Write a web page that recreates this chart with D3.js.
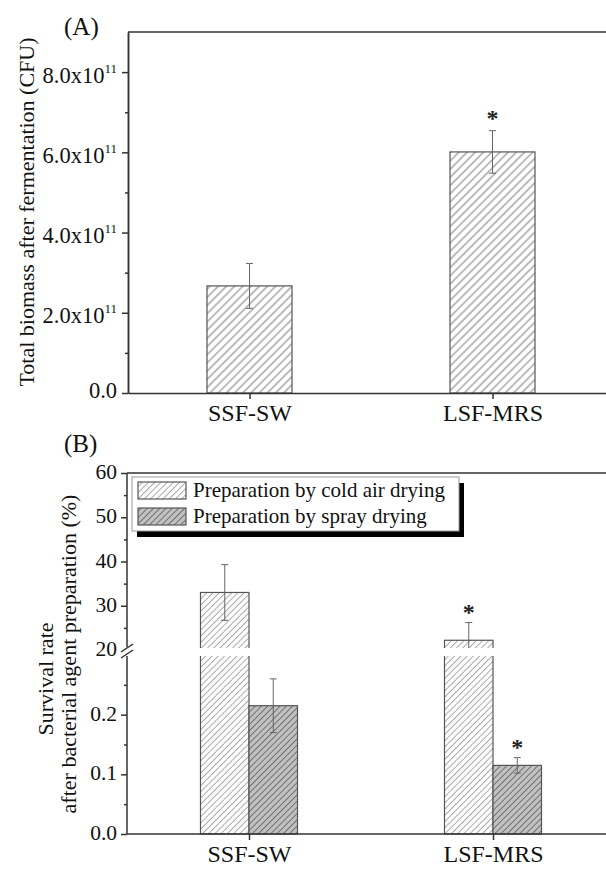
<!DOCTYPE html>
<html>
<head>
<meta charset="utf-8">
<script src="https://cdn.jsdelivr.net/npm/d3@7"></script>
<style>
body { margin: 0; background: #fff; }
svg { display: block; font-family: "Liberation Serif", "Times New Roman", serif; }
</style>
</head>
<body>
<svg width="606" height="869"></svg>
<script>
const categories = ["SSF-SW", "LSF-MRS"];

// panel A
const biomass = [2.67e11, 6.01e11];
const biomassErr = [0.56e11, 0.53e11];
const biomassStar = [false, true];
const biomassTicks = [0, 2e11, 4e11, 6e11, 8e11];
const biomassMinor = [1e11, 3e11, 5e11, 7e11];

// panel B
const seriesNames = ["Preparation by cold air drying", "Preparation by spray drying"];
const coldAir = [33.0, 22.2];
const coldAirErr = [6.3, 4.0];
const coldAirStar = [false, true];
const spray = [0.215, 0.115];
const sprayErr = [0.045, 0.013];
const sprayStar = [false, true];
const upperTicks = [20, 30, 40, 50, 60];
const upperMinor = [25, 35, 45, 55];
const lowerTicks = [0, 0.1, 0.2];
const lowerMinor = [0.05, 0.15, 0.25];

const svg = d3.select("svg");
const defs = svg.append("defs");
const axisColor = "#333";
const textColor = "#111";

function hatch(id, bg, line, size) {
  const p = defs.append("pattern")
    .attr("id", id)
    .attr("patternUnits", "userSpaceOnUse")
    .attr("width", size).attr("height", size)
    .attr("patternTransform", "rotate(45)");
  p.append("rect").attr("width", size).attr("height", size).attr("fill", bg);
  p.append("line")
    .attr("x1", size / 2).attr("y1", 0).attr("x2", size / 2).attr("y2", size)
    .attr("stroke", line).attr("stroke-width", 1);
}
hatch("hA", "#fff", "#7a7a7a", 5.8);
hatch("hCold", "#fff", "#a8a8a8", 4.4);
hatch("hSpray", "#c2c2c2", "#6e6e6e", 4.4);

function styleAxis(g) {
  g.selectAll("path, line").attr("stroke", axisColor).attr("stroke-width", 1.5);
  g.selectAll("text").remove();
}

function errorBar(g, x, yTop, yBot, showBottomCap) {
  g.append("line").attr("x1", x).attr("x2", x).attr("y1", yTop).attr("y2", yBot)
    .attr("stroke", "#666").attr("stroke-width", 1);
  g.append("line").attr("x1", x - 3.5).attr("x2", x + 3.5).attr("y1", yTop).attr("y2", yTop)
    .attr("stroke", "#666").attr("stroke-width", 1);
  if (showBottomCap) {
    g.append("line").attr("x1", x - 3.5).attr("x2", x + 3.5).attr("y1", yBot).attr("y2", yBot)
      .attr("stroke", "#666").attr("stroke-width", 1);
  }
}

function star(x, y) {
  svg.append("text").attr("x", x).attr("y", y + 12)
    .attr("text-anchor", "middle").attr("font-size", 24).attr("font-weight", "bold")
    .attr("fill", "#222").text("*");
}

function styleXAxis(g) {
  g.selectAll("path, line").attr("stroke", axisColor).attr("stroke-width", 1.5);
  g.selectAll("text").attr("font-size", 24).attr("font-family", "Liberation Serif")
    .attr("fill", textColor).attr("y", 28).attr("dy", 0);
}

// ---------- Panel A ----------
const ax = d3.scalePoint().domain(categories).range([128, 614]).padding(0.5);
const ay = d3.scaleLinear().domain([0, 9e11]).range([393, 32]);

svg.append("text").attr("x", 64).attr("y", 35).attr("font-size", 25).attr("fill", textColor).text("(A)");

const gA = svg.append("g");

gA.selectAll(".barA")
  .data(biomass)
  .enter().append("rect")
  .attr("class", "barA")
  .attr("x", (d, i) => ax(categories[i]) - 42.5)
  .attr("width", 85)
  .attr("y", d => ay(d))
  .attr("height", d => ay(0) - ay(d))
  .attr("fill", "url(#hA)")
  .attr("stroke", "#555").attr("stroke-width", 1.2);

biomass.forEach((v, i) => {
  const x = ax(categories[i]);
  errorBar(gA, x, ay(v + biomassErr[i]), ay(v - biomassErr[i]), true);
  if (biomassStar[i]) star(x, ay(v + biomassErr[i]) - 17);
});

gA.append("line").attr("x1", 128).attr("x2", 606).attr("y1", ay(9e11)).attr("y2", ay(9e11))
  .attr("stroke", axisColor).attr("stroke-width", 1.5);

gA.append("g").attr("transform", "translate(128,0)")
  .call(d3.axisLeft(ay).tickValues(biomassTicks).tickSize(6).tickSizeOuter(0))
  .call(styleAxis);
gA.append("g").attr("transform", "translate(128,0)")
  .call(d3.axisLeft(ay).tickValues(biomassMinor).tickSize(3).tickSizeOuter(0))
  .call(styleAxis);

biomassTicks.forEach(t => {
  const txt = gA.append("text").attr("x", 117).attr("text-anchor", "end")
    .attr("font-size", 22.5).attr("fill", textColor);
  if (t === 0) {
    txt.attr("y", ay(t) + 5).text("0.0");
  } else {
    txt.attr("y", ay(t) + 10.5);
    txt.append("tspan").text((t / 1e11).toFixed(1) + "x10");
    txt.append("tspan").attr("font-size", 13).attr("dy", -10).text("11");
  }
});

gA.append("g").attr("transform", "translate(0,393)")
  .call(d3.axisBottom(ax).tickSize(6).tickSizeOuter(0))
  .call(styleXAxis);

svg.append("text")
  .attr("transform", "translate(34,212) rotate(-90)")
  .attr("text-anchor", "middle").attr("font-size", 22).attr("fill", textColor)
  .text("Total biomass after fermentation (CFU)");

// ---------- Panel B ----------
const bx = d3.scalePoint().domain(categories).range([127, 615]).padding(0.5);
const bInner = d3.scaleBand().domain(seriesNames).range([-48.5, 48.5]);
const yUp = d3.scaleLinear().domain([20, 60]).range([650, 473]);
const yLow = d3.scaleLinear().domain([0, 0.3]).range([834, 655]);
function yB(v) { return v >= 20 ? yUp(v) : yLow(Math.min(v, 0.3)); }

svg.append("text").attr("x", 64).attr("y", 452).attr("font-size", 25).attr("fill", textColor).text("(B)");

const gB = svg.append("g");
const groups = [
  { name: seriesNames[0], vals: coldAir, errs: coldAirErr, stars: coldAirStar, fill: "url(#hCold)" },
  { name: seriesNames[1], vals: spray, errs: sprayErr, stars: sprayStar, fill: "url(#hSpray)" }
];

groups.forEach(s => {
  gB.selectAll(null)
    .data(s.vals)
    .enter().append("rect")
    .attr("x", (d, i) => bx(categories[i]) + bInner(s.name))
    .attr("width", bInner.bandwidth())
    .attr("y", d => yB(d))
    .attr("height", d => yB(0) - yB(d))
    .attr("fill", s.fill)
    .attr("stroke", "#555").attr("stroke-width", 1.2);
});

// break gap across the plot
gB.append("rect").attr("x", 122).attr("width", 484)
  .attr("y", yUp(20) - 2).attr("height", yLow(0.3) - yUp(20) + 3)
  .attr("fill", "#fff");

groups.forEach(s => {
  s.vals.forEach((v, i) => {
    const x = bx(categories[i]) + bInner(s.name) + bInner.bandwidth() / 2;
    const top = yB(v + s.errs[i]);
    let low = v - s.errs[i];
    let cap = true;
    if (v >= 20 && low < 20) { low = 20; cap = false; }
    errorBar(gB, x, top, low >= 20 ? yUp(low) - (cap ? 0 : 2) : yB(low), cap);
    if (s.stars[i]) star(x, top - 15);
  });
});

gB.append("line").attr("x1", 127).attr("x2", 606).attr("y1", 473).attr("y2", 473)
  .attr("stroke", axisColor).attr("stroke-width", 1.5);

const upAxis = gB.append("g").attr("transform", "translate(127,0)")
  .call(d3.axisLeft(yUp).tickValues(upperTicks.filter(t => t > 20)).tickSize(6).tickSizeOuter(0))
  .call(styleAxis);
upAxis.select("path").remove();
gB.append("g").attr("transform", "translate(127,0)")
  .call(d3.axisLeft(yUp).tickValues(upperMinor).tickSize(3).tickSizeOuter(0))
  .call(styleAxis).select("path").remove();
const lowAxis = gB.append("g").attr("transform", "translate(127,0)")
  .call(d3.axisLeft(yLow).tickValues(lowerTicks).tickSize(6).tickSizeOuter(0))
  .call(styleAxis);
lowAxis.select("path").remove();
gB.append("g").attr("transform", "translate(127,0)")
  .call(d3.axisLeft(yLow).tickValues(lowerMinor).tickSize(3).tickSizeOuter(0))
  .call(styleAxis).select("path").remove();

// axis line with break marks
gB.append("line").attr("x1", 127).attr("x2", 127).attr("y1", 473).attr("y2", yUp(20) - 3)
  .attr("stroke", axisColor).attr("stroke-width", 1.5);
gB.append("line").attr("x1", 127).attr("x2", 127).attr("y1", yLow(0.3) + 1).attr("y2", 834)
  .attr("stroke", axisColor).attr("stroke-width", 1.5);
[yUp(20) - 2, yUp(20) + 4].forEach(y => {
  gB.append("line").attr("x1", 121).attr("x2", 133).attr("y1", y + 4).attr("y2", y - 4)
    .attr("stroke", axisColor).attr("stroke-width", 1.5);
});

upperTicks.forEach(t => {
  gB.append("text").attr("x", 117).attr("y", yUp(t) + 6).attr("text-anchor", "end")
    .attr("font-size", 21.5).attr("fill", textColor).text(t);
});
lowerTicks.forEach(t => {
  gB.append("text").attr("x", 117).attr("y", yLow(t) + 6).attr("text-anchor", "end")
    .attr("font-size", 21.5).attr("fill", textColor).text(t.toFixed(1));
});

const xB = gB.append("g").attr("transform", "translate(0,834)")
  .call(d3.axisBottom(bx).tickSize(6).tickSizeOuter(0));
xB.select("path").attr("d", "M127,0H606");
xB.call(styleXAxis);

svg.append("text")
  .attr("transform", "translate(53,679) rotate(-90)")
  .attr("text-anchor", "middle").attr("font-size", 22).attr("fill", textColor)
  .text("Survival rate");
svg.append("text")
  .attr("transform", "translate(76,654) rotate(-90)")
  .attr("text-anchor", "middle").attr("font-size", 22).attr("fill", textColor)
  .text("after bacterial agent preparation (%)");

// legend
const lg = svg.append("g").attr("transform", "translate(132,477)");
lg.append("rect").attr("x", 5).attr("y", 6).attr("width", 327).attr("height", 54).attr("fill", "#000");
lg.append("rect").attr("width", 327).attr("height", 54)
  .attr("fill", "#fff").attr("stroke", "#999").attr("stroke-width", 1);
groups.forEach((s, i) => {
  lg.append("rect").attr("x", 6).attr("y", 5 + i * 26).attr("width", 48).attr("height", 17)
    .attr("fill", s.fill).attr("stroke", "#555").attr("stroke-width", 1.2);
  lg.append("text").attr("x", 61).attr("y", 20 + i * 26)
    .attr("font-size", 21).attr("fill", textColor).text(s.name);
});
</script>
</body>
</html>
